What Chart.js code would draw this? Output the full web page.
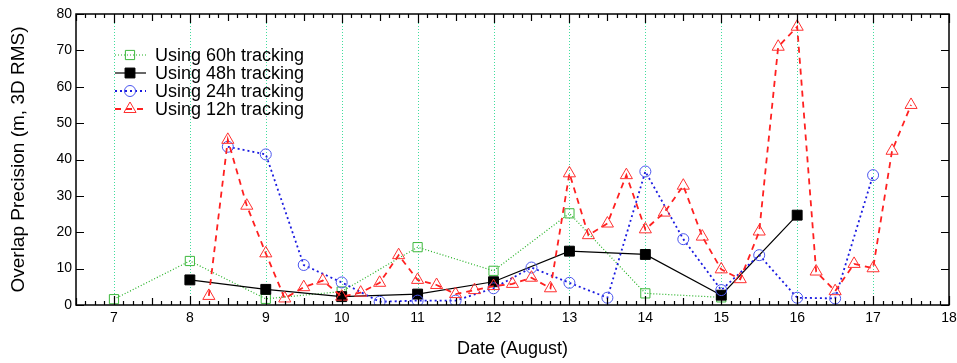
<!DOCTYPE html>
<html>
<head>
<meta charset="utf-8">
<script src="https://cdn.jsdelivr.net/npm/chart.js@4"></script>
<style>
  html, body { margin: 0; padding: 0; background: #fff; }
  #wrap { width: 957px; height: 363px; }
</style>
</head>
<body>
<div id="wrap"><canvas id="precChart" width="957" height="363"></canvas></div>
<script>
// tick labels
const xTicks = [7, 8, 9, 10, 11, 12, 13, 14, 15, 16, 17, 18];
const yTicks = [0, 10, 20, 30, 40, 50, 60, 70, 80];

// 60h tracking
const days60 = [7, 8, 9, 10, 11, 12, 13, 14, 15];
const prec60 = [1.6, 12.1, 1.7, 3.7, 15.9, 9.4, 25.2, 3.2, 2.1];

// 48h tracking
const days48 = [8, 9, 10, 11, 12, 13, 14, 15, 16];
const prec48 = [6.9, 4.3, 2.3, 3.0, 6.4, 14.8, 13.9, 2.7, 24.7];

// 24h tracking
const days24 = [8.5, 9, 9.5, 10, 10.5, 11, 11.5, 12, 12.5, 13, 13.5, 14, 14.5, 15, 15.5, 16, 16.5, 17];
const prec24 = [43.5, 41.4, 11.0, 6.2, 0.9, 1.2, 1.2, 4.6, 10.3, 6.1, 2.0, 36.7, 18.1, 4.1, 13.7, 2.0, 1.8, 35.7];

// 12h tracking
const days12 = [8.25, 8.5, 8.75, 9, 9.25, 9.5, 9.75, 10, 10.25, 10.5, 10.75, 11, 11.25, 11.5, 11.75, 12,
  12.25, 12.5, 12.75, 13, 13.25, 13.5, 13.75, 14, 14.25, 14.5, 14.75, 15, 15.25, 15.5, 15.75, 16,
  16.25, 16.5, 16.75, 17, 17.25, 17.5];
const prec12 = [2.5, 45.4, 27.3, 14.2, 1.8, 4.9, 6.7, 2.3, 3.4, 6.1, 13.7, 6.9, 5.5, 3.0, 4.1, 5.2,
  5.8, 7.5, 4.6, 36.2, 19.2, 22.4, 35.7, 20.8, 25.4, 32.8, 18.8, 9.8, 7.1, 20.2, 71.0, 76.5,
  9.2, 3.8, 11.3, 10.1, 42.4, 55.0];

const FONT = "'Liberation Sans', Arial, Helvetica, sans-serif";

const toPoints = (xs, ys) => xs.map((x, i) => ({ x: x, y: ys[i] }));

// frame, inward ticks, dotted day lines and the legend
const framePlugin = {
  id: "frame",
  beforeDatasetsDraw(chart) {
    const { ctx, chartArea: a, scales } = chart;
    const xs = scales.x;
    ctx.save();
    ctx.strokeStyle = "rgba(30, 215, 140, 0.85)";
    ctx.lineWidth = 1;
    ctx.setLineDash([1, 2]);
    xTicks.slice(0, -1).forEach((v) => {
      const px = Math.round(xs.getPixelForValue(v)) + 0.5;
      ctx.beginPath();
      ctx.moveTo(px, a.top);
      ctx.lineTo(px, a.bottom);
      ctx.stroke();
    });
    ctx.restore();
  },
  afterDatasetsDraw(chart) {
    const { ctx, chartArea: a, scales } = chart;
    const xs = scales.x;
    const ys = scales.y;
    ctx.save();
    ctx.strokeStyle = "#000";
    ctx.lineWidth = 1.5;
    ctx.setLineDash([]);
    ctx.strokeRect(a.left, a.top, a.right - a.left, a.bottom - a.top);

    ctx.lineWidth = 1.2;
    ctx.beginPath();
    for (let k = 0; k <= 92; k++) {
      const v = xs.min + k * 0.125;
      const frac = v - Math.floor(v);
      let len = 4;
      if (frac === 0) len = 9;
      else if (frac === 0.5) len = 7;
      const px = Math.round(xs.getPixelForValue(v)) + 0.5;
      ctx.moveTo(px, a.bottom);
      ctx.lineTo(px, a.bottom - len);
      ctx.moveTo(px, a.top);
      ctx.lineTo(px, a.top + len);
    }
    yTicks.forEach((v) => {
      const py = Math.round(ys.getPixelForValue(v)) + 0.5;
      ctx.moveTo(a.left, py);
      ctx.lineTo(a.left + 8, py);
      ctx.moveTo(a.right, py);
      ctx.lineTo(a.right - 8, py);
    });
    ctx.stroke();

    // legend
    const rowY = [55, 73, 91, 109];
    chart.data.datasets.forEach((ds, i) => {
      const y = rowY[i];
      ctx.strokeStyle = ds.borderColor;
      ctx.lineWidth = ds.borderWidth;
      ctx.setLineDash(ds.borderDash || []);
      ctx.beginPath();
      ctx.moveTo(115, y);
      ctx.lineTo(146, y);
      ctx.stroke();
      ctx.setLineDash([]);
      ctx.fillStyle = ds.pointBackgroundColor;
      ctx.strokeStyle = ds.pointBorderColor;
      ctx.lineWidth = ds.pointBorderWidth;
      Chart.helpers.drawPoint(ctx, {
        pointStyle: ds.pointStyle,
        radius: ds.pointRadius,
        borderWidth: ds.pointBorderWidth,
        rotation: 0
      }, 130, y);
      ctx.fillStyle = "#000";
      ctx.font = "18px " + FONT;
      ctx.textBaseline = "middle";
      ctx.textAlign = "left";
      ctx.fillText(ds.label, 155, y + 1);
    });
    ctx.restore();
  }
};

new Chart(document.getElementById("precChart"), {
  type: "line",
  data: {
    datasets: [
      {
        label: "Using 60h tracking",
        data: toPoints(days60, prec60),
        borderColor: "#22b022",
        borderWidth: 1.2,
        borderDash: [1, 2],
        pointStyle: "rect",
        pointRadius: 6.5,
        pointBorderWidth: 1,
        pointBorderColor: "#3cb83c",
        pointBackgroundColor: "rgba(255,255,255,0)",
        order: 3
      },
      {
        label: "Using 48h tracking",
        data: toPoints(days48, prec48),
        borderColor: "#000000",
        borderWidth: 1.2,
        borderDash: [],
        pointStyle: "rect",
        pointRadius: 7,
        pointBorderWidth: 1,
        pointBorderColor: "#000000",
        pointBackgroundColor: "#000000",
        order: 2
      },
      {
        label: "Using 24h tracking",
        data: toPoints(days24, prec24),
        borderColor: "#1a1ae0",
        borderWidth: 1.8,
        borderDash: [2, 3],
        pointStyle: "circle",
        pointRadius: 5.5,
        pointBorderWidth: 1,
        pointBorderColor: "#4a55ee",
        pointBackgroundColor: "rgba(255,255,255,0)",
        order: 1
      },
      {
        label: "Using 12h tracking",
        data: toPoints(days12, prec12),
        borderColor: "#ff2020",
        borderWidth: 1.8,
        borderDash: [6, 5],
        pointStyle: "triangle",
        pointRadius: 7,
        pointBorderWidth: 1,
        pointBorderColor: "#ff3030",
        pointBackgroundColor: "rgba(255,255,255,0)",
        order: 0
      }
    ]
  },
  options: {
    responsive: false,
    animation: false,
    devicePixelRatio: 1,
    layout: { padding: { left: 0, top: 14, right: 6, bottom: 0 } },
    plugins: {
      legend: { display: false },
      tooltip: { enabled: false },
      title: { display: false }
    },
    scales: {
      x: {
        type: "linear",
        min: 6.5,
        max: 18,
        afterBuildTicks: (scale) => { scale.ticks = xTicks.map((v) => ({ value: v })); },
        afterFit: (scale) => {
          scale.height = 58;
          scale.paddingLeft = 0;
          scale.paddingRight = 0;
        },
        grid: { display: false, drawTicks: false },
        border: { display: false },
        ticks: {
          padding: 5,
          color: "#000",
          maxRotation: 0,
          autoSkip: false,
          font: { family: FONT, size: 14 }
        },
        title: {
          display: true,
          text: "Date (August)",
          color: "#000",
          padding: { top: 0, bottom: 3 },
          font: { family: FONT, size: 18 }
        }
      },
      y: {
        min: 0,
        max: 80,
        afterBuildTicks: (scale) => { scale.ticks = yTicks.map((v) => ({ value: v })); },
        afterFit: (scale) => {
          scale.width = 76;
          scale.paddingTop = 0;
          scale.paddingBottom = 0;
        },
        grid: { display: false, drawTicks: false },
        border: { display: false },
        ticks: {
          padding: 4,
          color: "#000",
          font: { family: FONT, size: 14 }
        },
        title: {
          display: true,
          text: "Overlap Precision (m, 3D RMS)",
          color: "#000",
          padding: { top: 7, bottom: 0 },
          font: { family: FONT, size: 19 }
        }
      }
    }
  },
  plugins: [framePlugin]
});
</script>
</body>
</html>
